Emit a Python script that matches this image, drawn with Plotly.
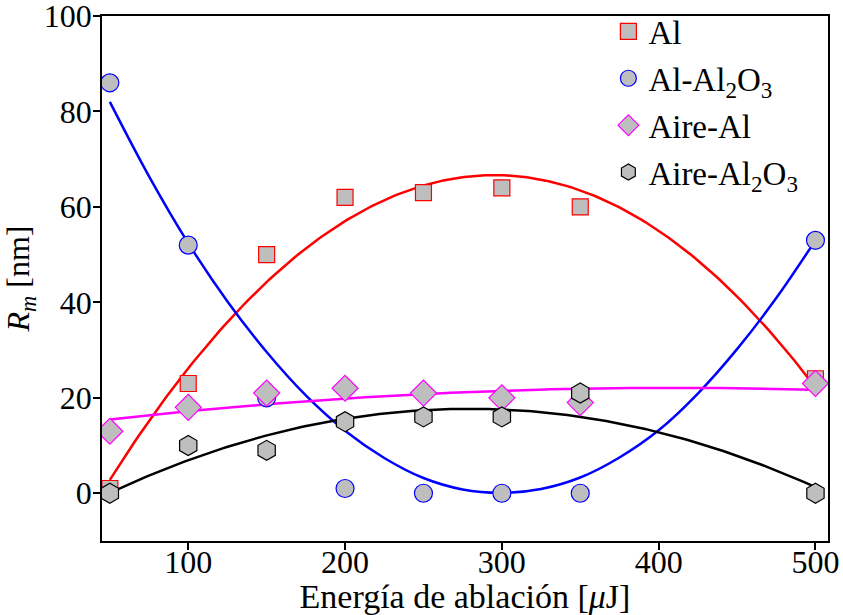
import numpy as np
import plotly.graph_objects as go

# Ablation energy (uJ)
energia = [50, 100, 150, 200, 250, 300, 350, 500]

# Mean radius R_m (nm) for each sample
r_al = [1, 23, 50, 62, 63, 64, 60, 24]
r_al_al2o3 = [86, 52, 20, 1, 0, 0, 0, 53]
r_aire_al = [13, 18, 21, 22, 21, 20, 19, 23]
r_aire_al2o3 = [0, 10, 9, 15, 16, 16, 21, 0]

# Trend curve for Al-Al2O3 (parabola with its minimum at ~300 uJ)
tend_al_al2o3_x = [50, 75, 100, 125, 150, 175, 200, 225, 250, 275, 300,
                   325, 350, 375, 400, 425, 450, 475, 500]
tend_al_al2o3_y = [82.0, 66.4, 52.4, 40.2, 29.6, 20.5, 13.1, 7.4, 3.2, 0.8, 0.1,
                   0.9, 3.3, 7.5, 13.2, 20.9, 30.2, 40.9, 53.0]

x_ticks = [100, 200, 300, 400, 500]
y_ticks = [0, 20, 40, 60, 80, 100]

series = [
    ("Al", r_al, "#ff0000", "square"),
    ("Al-Al<sub>2</sub>O<sub>3</sub>", r_al_al2o3, "#0000ff", "circle"),
    ("Aire-Al", r_aire_al, "#ff00ff", "diamond"),
    ("Aire-Al<sub>2</sub>O<sub>3</sub>", r_aire_al2o3, "#000000", "hexagon"),
]

FONT = "Liberation Serif"
fig = go.Figure()

x_fit = np.linspace(min(energia), max(energia), 200)
for name, vals, color, sym in series:
    if vals is r_al_al2o3:
        fx, fy = tend_al_al2o3_x, tend_al_al2o3_y
        shape = "spline"
    else:
        # quadratic least-squares trend
        coef = np.polyfit(energia, vals, 2)
        fx, fy = x_fit, np.polyval(coef, x_fit)
        shape = "linear"
    fig.add_trace(go.Scatter(
        x=fx, y=fy, mode="lines", line=dict(color=color, width=2.5, shape=shape),
        showlegend=False, hoverinfo="skip",
    ))

sizes = {"square": 16, "circle": 18, "diamond": 20, "hexagon": 20}
for i, (name, vals, color, sym) in enumerate(series):
    fig.add_trace(go.Scatter(
        x=energia, y=vals, mode="markers", name=name, legendgroup=f"g{i}",
        marker=dict(symbol=sym, size=sizes[sym], color="#bebebe",
                    line=dict(color=color, width=1.2)),
    ))

fig.update_layout(
    width=843, height=615,
    margin=dict(l=102, r=15, t=16, b=74, autoexpand=False),
    paper_bgcolor="white", plot_bgcolor="white",
    font=dict(family=FONT, size=32, color="black"),
    legend=dict(x=0.6975, y=1.024, xanchor="left", yanchor="top",
                bgcolor="rgba(0,0,0,0)", font=dict(size=33),
                itemsizing="trace", tracegroupgap=1),
    showlegend=True,
)
fig.update_xaxes(
    range=[45, 508], tickvals=x_ticks, ticks="outside", ticklen=7,
    tickwidth=1.5, tickcolor="black", showline=True, linecolor="black",
    linewidth=1.5, mirror=True, showgrid=False, zeroline=False,
    automargin=False, tickfont=dict(size=32), ticklabelstandoff=-15,
    ticklabeloverflow="allow",
    title=dict(text="Energía de ablación [<i>μ</i>J]", standoff=2,
               font=dict(size=34)),
)
fig.update_yaxes(
    range=[-10, 100], tickvals=y_ticks, ticks="outside", ticklen=7,
    tickwidth=1.5, tickcolor="black", showline=True, linecolor="black",
    linewidth=1.5, mirror=True, showgrid=False, zeroline=False,
    automargin=False, tickfont=dict(size=32), ticklabelstandoff=-5,
    ticklabeloverflow="allow",
    title=dict(text="<i>R</i><sub><i>m</i></sub> [nm]", standoff=8,
               font=dict(size=32)),
)

fig.write_html("out.html")
